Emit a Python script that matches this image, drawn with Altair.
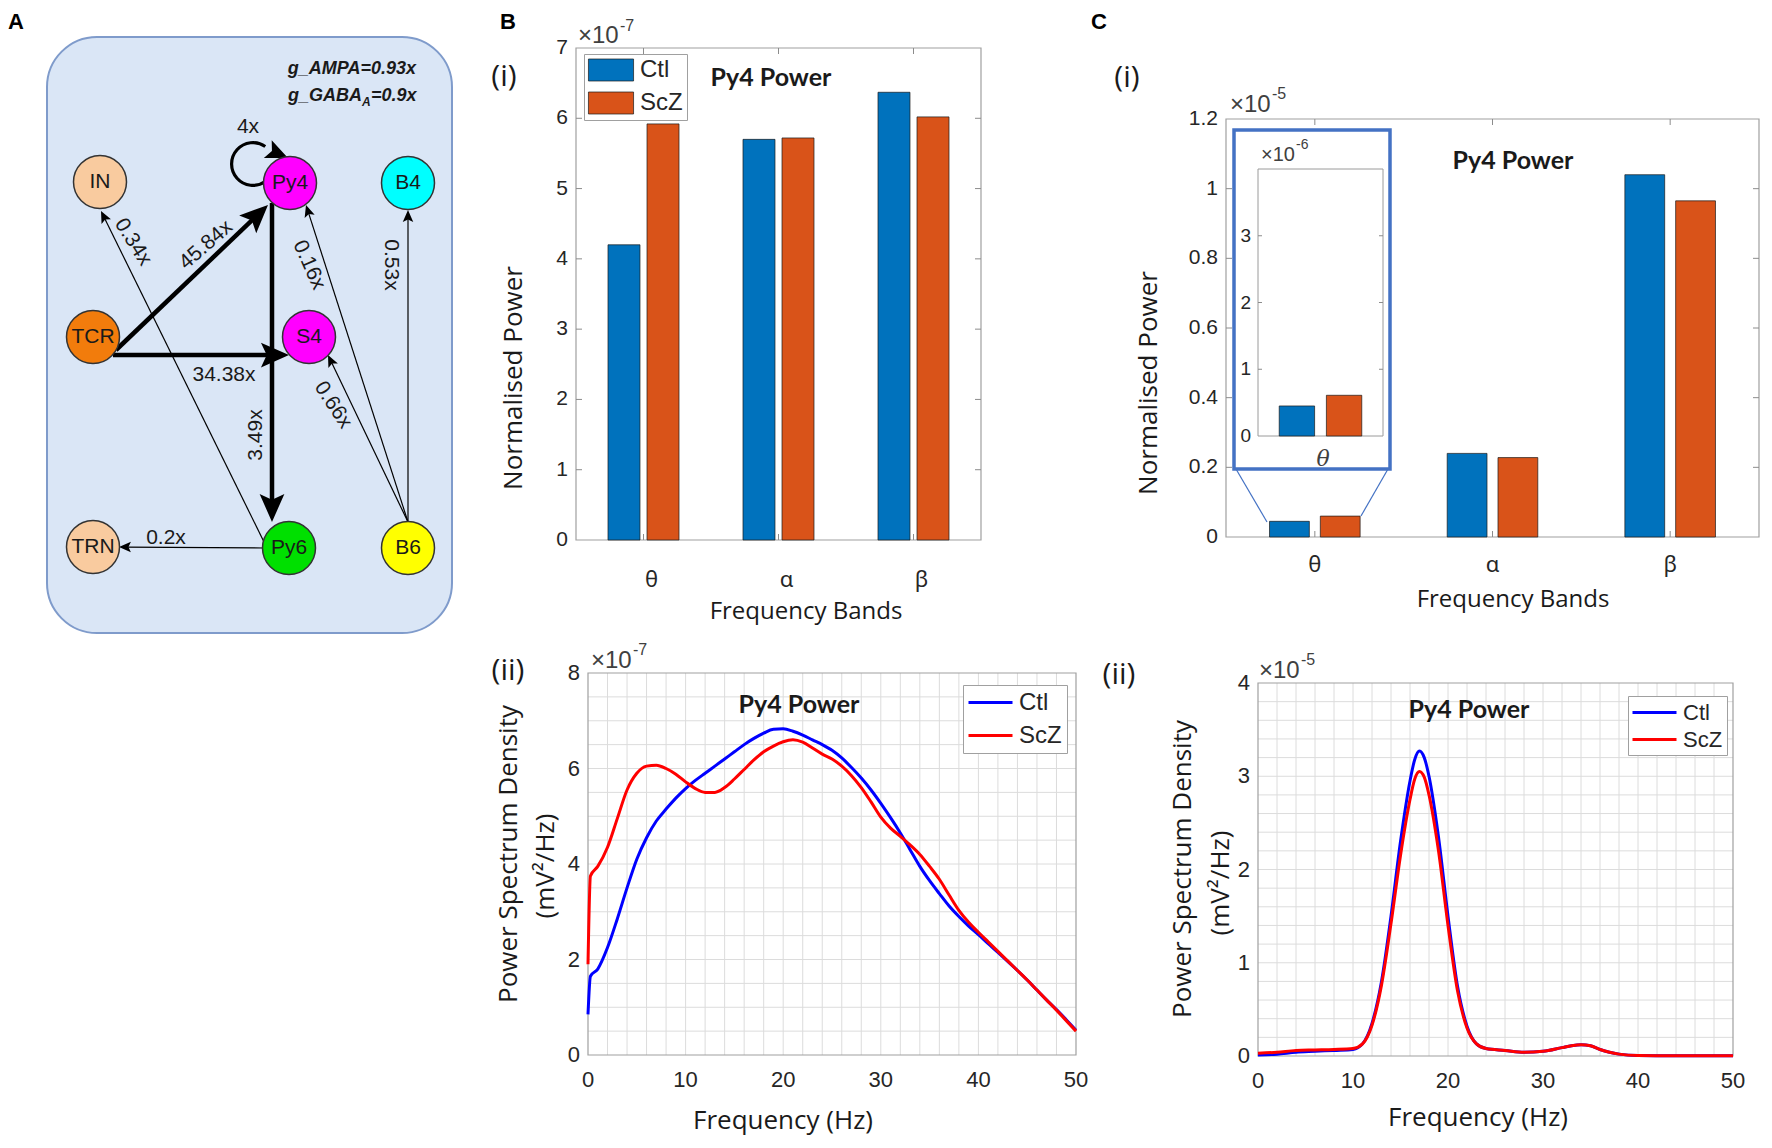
import math
import altair as alt
import pandas as pd

# ---------------- values ----------------
bands = ["θ", "α", "β"]
groups = ["Ctl", "ScZ"]

b_bar_ctl = [4.2, 5.7, 6.37]        # Py4 power, x10^-7
b_bar_scz = [5.92, 5.72, 6.02]
c_bar_ctl = [0.045, 0.24, 1.04]     # Py4 power, x10^-5
c_bar_scz = [0.06, 0.228, 0.965]
c_inset_ctl = [0.45]                # theta band zoom, x10^-6
c_inset_scz = [0.61]

b_freq = [0, 0.25, 1, 2, 3, 4, 5, 6, 7, 8, 9, 10, 11, 12, 13, 14, 15, 16, 17, 18, 19, 20,
          21, 22, 23, 24, 25, 26, 27, 28, 29, 30, 31, 32, 33, 34, 35, 36, 37, 38, 39, 40,
          41, 42, 43, 44, 45, 46, 47, 48, 49, 50]
b_psd_ctl = [0.85, 1.65, 1.8, 2.25, 2.85, 3.5, 4.1, 4.55, 4.9, 5.15, 5.38, 5.58, 5.75, 5.9,
             6.05, 6.2, 6.35, 6.5, 6.63, 6.74, 6.82, 6.83, 6.78, 6.7, 6.6, 6.5, 6.38, 6.22,
             6.02, 5.8, 5.55, 5.27, 4.97, 4.65, 4.3, 3.95, 3.65, 3.38, 3.12, 2.9, 2.7, 2.52,
             2.33, 2.15, 1.96, 1.77, 1.57, 1.36, 1.15, 0.95, 0.74, 0.52]
b_psd_scz = [1.9, 3.75, 3.95, 4.35, 4.95, 5.55, 5.9, 6.05, 6.07, 6.0, 5.88, 5.72, 5.58, 5.5,
             5.5, 5.6, 5.78, 5.98, 6.18, 6.35, 6.47, 6.56, 6.6, 6.55, 6.43, 6.3, 6.2, 6.05,
             5.85, 5.6, 5.3, 4.98, 4.75, 4.58, 4.4, 4.2, 3.95, 3.68, 3.35, 3.03, 2.78, 2.57,
             2.37, 2.17, 1.97, 1.77, 1.57, 1.36, 1.15, 0.94, 0.72, 0.5]
c_freq = [0, 2, 4, 6, 8, 10, 11, 12, 13, 14, 15, 16, 16.5, 17, 17.5, 18, 19, 20, 21, 22, 23,
          24, 26, 28, 30, 32, 33, 34, 35, 36, 37, 38, 40, 45, 50]
c_psd_ctl = [0.01, 0.02, 0.04, 0.05, 0.06, 0.07, 0.13, 0.35, 0.8, 1.5, 2.3, 2.95, 3.18, 3.27,
             3.2, 3.0, 2.35, 1.5, 0.75, 0.32, 0.13, 0.08, 0.06, 0.04, 0.05, 0.09, 0.11, 0.12,
             0.11, 0.07, 0.04, 0.02, 0.005, 0.003, 0.002]
c_psd_scz = [0.03, 0.04, 0.06, 0.065, 0.07, 0.08, 0.13, 0.33, 0.76, 1.42, 2.15, 2.75, 2.97,
             3.05, 2.99, 2.8, 2.2, 1.4, 0.7, 0.3, 0.13, 0.08, 0.06, 0.04, 0.05, 0.09, 0.11,
             0.12, 0.11, 0.07, 0.04, 0.02, 0.005, 0.003, 0.002]

# network diagram (panel A)
node_names = ["IN", "Py4", "B4", "TCR", "S4", "TRN", "Py6", "B6"]
node_fill = ["#f9cb9f", "#ff00ff", "#00ffff", "#f27c0c", "#ff00ff", "#f9cb9f", "#00e000", "#ffff00"]
node_x = [91, 281, 399, 84, 300, 84, 280, 399]
node_y = [174, 175, 175, 329, 329, 539, 540, 540]

edge_src = ["TCR", "TCR", "Py4", "Py6", "B6", "B6", "B6", "Py6"]
edge_dst = ["Py4", "S4", "Py6", "IN", "Py4", "S4", "B4", "TRN"]
edge_gain = ["45.84x", "34.38x", "3.49x", "0.34x", "0.16x", "0.66x", "0.53x", "0.2x"]
edge_heavy = [True, True, True, False, False, False, False, False]
self_gain = "4x"

# layout of the diagram (anchor offsets, label placement)
src_off = [(23, 13), (20, 18), (-18, 20), (-25, -6), (0, -26), (0, -26), (0, -26), (-25, 0)]
dst_off = [(-22, 22), (-20, 18), (-17, -26), (1, 29), (16, 22), (19, 18), (0, 27), (26, 0)]
lab_pos = [(197, 237), (215, 367), (247, 427), (124, 234), (300, 257), (324, 397), (382, 257), (157, 530)]
lab_ang = [319, 0, 270, 58, 66, 57, 90, 0]

ARROW = "M0,-1L0.75,0.7L0,0.35L-0.75,0.7Z"
TXT = "#262626"
TTL = "#1a1a1a"
BOX = "#a0a0a0"
GRID = "#dcdcdc"
TW, TH = 1752, 1128   # whole canvas


def label(t, x, y, size, font="Liberation Sans", weight="normal", color=TXT,
          align="center", baseline="middle", style=None, angle=None):
    kw = dict(font=font, fontSize=size, fontWeight=weight, color=color,
              align=align, baseline=baseline)
    if style:
        kw["fontStyle"] = style
    if angle:
        kw["angle"] = angle
    return alt.Chart(pd.DataFrame({"t": [t]})).mark_text(**kw).encode(
        x=alt.value(x), y=alt.value(y), text="t:N")


def frame(x0, y0, x1, y1, color=BOX, width=1.2, fill="white", fill_op=0.0):
    return alt.Chart(pd.DataFrame({"a": [0]})).mark_rect(
        fill=fill, fillOpacity=fill_op, stroke=color, strokeWidth=width).encode(
        x=alt.value(x0), x2=alt.value(x1), y=alt.value(y0), y2=alt.value(y1))


def seg(x0, y0, x1, y1, color, width):
    return alt.Chart(pd.DataFrame({"a": [0]})).mark_rule(color=color, strokeWidth=width).encode(
        x=alt.value(x0), y=alt.value(y0), x2=alt.value(x1), y2=alt.value(y1))


# ======================= Panel A =======================
sxA = alt.Scale(domain=[0, TW], range=[0, TW])
syA = alt.Scale(domain=[0, TH], range=[0, TH])


def XA(f):
    return alt.X(f, scale=sxA, axis=None)


def YA(f):
    return alt.Y(f, scale=syA, axis=None)


pos = {n: (x, y) for n, x, y in zip(node_names, node_x, node_y)}
lines, heads = [], []


def add_arrow(sx, sy, tx, ty, heavy, r=None):
    dx, dy = tx - sx, ty - sy
    L = math.hypot(dx, dy)
    ux, uy = dx / L, dy / L
    if r is None:
        r = 16.5 if heavy else 7.0
    cx, cy = tx - ux * r, ty - uy * r
    ang = math.degrees(math.atan2(ux, -uy)) % 360
    heads.append({"x": cx, "y": cy, "ang": ang, "sz": (2 * r) ** 2})
    return cx, cy


for i in range(len(edge_src)):
    s = pos[edge_src[i]]
    d = pos[edge_dst[i]]
    sx, sy = s[0] + src_off[i][0], s[1] + src_off[i][1]
    tx, ty = d[0] + dst_off[i][0], d[1] + dst_off[i][1]
    ex, ey = add_arrow(sx, sy, tx, ty, edge_heavy[i])
    lines.append({"x": sx, "y": sy, "x2": ex, "y2": ey, "w": 4.5 if edge_heavy[i] else 1.2})

loop_c = (pos["Py4"][0] - 37, pos["Py4"][1] - 19)
add_arrow(pos["Py4"][0] - 27, pos["Py4"][1] - 36, pos["Py4"][0] - 2, pos["Py4"][1] - 25, True, r=13)

box = alt.Chart(pd.DataFrame({"x": [38], "x2": [443], "y": [29], "y2": [625]})).mark_rect(
    cornerRadius=50, fill="#dae6f6", stroke="#7f9bcb", strokeWidth=2).encode(
    x=XA("x:Q"), x2="x2:Q", y=YA("y:Q"), y2="y2:Q")
edges = alt.Chart(pd.DataFrame(lines)).mark_rule(color="black").encode(
    x=XA("x:Q"), y=YA("y:Q"), x2="x2:Q", y2="y2:Q",
    strokeWidth=alt.StrokeWidth("w:Q", scale=None))
arrowheads = alt.Chart(pd.DataFrame(heads)).mark_point(
    shape=ARROW, filled=True, color="black", opacity=1).encode(
    x=XA("x:Q"), y=YA("y:Q"), angle=alt.Angle("ang:Q", scale=None),
    size=alt.Size("sz:Q", scale=None))
loop = alt.Chart(pd.DataFrame({"x": [loop_c[0]], "y": [loop_c[1]]})).mark_arc(
    theta=math.radians(145), theta2=math.radians(395), radius=23, radius2=19.8,
    color="black").encode(x=XA("x:Q"), y=YA("y:Q"))
df_nodes = pd.DataFrame({"name": node_names, "x": node_x, "y": node_y, "fill": node_fill})
nodes = alt.Chart(df_nodes).mark_point(shape="circle", filled=True, size=2809,
                                       stroke="#333333", strokeWidth=1.5, opacity=1).encode(
    x=XA("x:Q"), y=YA("y:Q"), fill=alt.Fill("fill:N", scale=None))
node_txt = alt.Chart(df_nodes).mark_text(font="Liberation Sans", fontSize=21,
                                         color="#1a1a1a").encode(
    x=XA("x:Q"), y=YA("y:Q"), text="name:N")
df_elab = pd.DataFrame({"t": edge_gain + [self_gain],
                        "x": [p[0] for p in lab_pos] + [239],
                        "y": [p[1] for p in lab_pos] + [119],
                        "ang": lab_ang + [0]})
edge_txt = alt.Chart(df_elab).mark_text(font="Liberation Sans", fontSize=21,
                                        color="#1a1a1a").encode(
    x=XA("x:Q"), y=YA("y:Q"), text="t:N", angle=alt.Angle("ang:Q", scale=None))

gtxt = dict(font="Liberation Sans", weight="bold", style="italic", color="#1a1a1a")
panel_a = alt.layer(
    box, edges, loop, arrowheads, nodes, node_txt, edge_txt,
    label("A", 7, 14, 22, weight="bold", color="black"),
    label("g_AMPA=0.93x", 407, 61, 18, align="right", **gtxt),
    label("g_GABA", 353, 88, 18, align="right", **gtxt),
    label("A", 353, 94, 12, align="left", **gtxt),
    label("=0.9x", 362, 88, 18, align="left", **gtxt),
)


# ======================= bar panels =======================
def bar_panel(vals_ctl, vals_scz, x0, y0, W, H, ydom, yvals, ylabs, pin, pin_off,
              lab_pad, lab_dx, legend):
    x1, y1 = x0 + W, y0 + H
    df = pd.DataFrame({"band": bands * 2, "group": [groups[0]] * 3 + [groups[1]] * 3,
                       "val": vals_ctl + vals_scz})
    xenc = alt.X("band:N", sort=bands,
                 scale=alt.Scale(domain=bands, range=[x0, x1], paddingInner=pin,
                                 paddingOuter=pin / 2), axis=None)
    yenc = alt.Y("val:Q", scale=alt.Scale(domain=ydom, range=[y1, y0], nice=False), axis=None)
    color = alt.Color("group:N", sort=groups,
                      scale=alt.Scale(domain=groups, range=["#0072bd", "#d95319"]),
                      legend=legend)
    bars = alt.Chart(df).mark_bar(stroke="#1a1a1a", strokeWidth=0.7).encode(
        x=xenc, y=yenc, color=color,
        xOffset=alt.XOffset("group:N", sort=groups,
                            scale=alt.Scale(domain=groups, paddingInner=pin_off,
                                            paddingOuter=0)))
    dft = pd.DataFrame({"val": yvals, "lab": ylabs})
    ylab = alt.Chart(dft).mark_text(font="Liberation Sans", fontSize=21, color=TXT,
                                    align="right", baseline="middle").encode(
        y=yenc, x=alt.value(x0 - 8), text="lab:N")
    inner = pd.DataFrame({"val": yvals[1:-1]})
    tl = alt.Chart(inner).mark_rule(color="#8c8c8c", strokeWidth=1).encode(
        y=yenc, x=alt.value(x0), x2=alt.value(x0 + 6))
    tr = alt.Chart(inner).mark_rule(color="#8c8c8c", strokeWidth=1).encode(
        y=yenc, x=alt.value(x1 - 6), x2=alt.value(x1))
    dfx = pd.DataFrame({"band": bands})
    tb = alt.Chart(dfx).mark_rule(color="#8c8c8c", strokeWidth=1).encode(
        x=xenc, y=alt.value(y1 - 6), y2=alt.value(y1))
    tt = alt.Chart(dfx).mark_rule(color="#8c8c8c", strokeWidth=1).encode(
        x=xenc, y=alt.value(y0), y2=alt.value(y0 + 6))
    xlab = alt.Chart(dfx).mark_text(font="Noto Sans", fontSize=22, color=TXT,
                                    baseline="middle", dx=lab_dx).encode(
        x=xenc, y=alt.value(y1 + lab_pad), text="band:N")
    return [frame(x0, y0, x1, y1), bars, tl, tr, tb, tt, ylab, xlab]


# ---- B(i)
BX, BY, BW, BH = 567, 40, 405, 492
leg_bi = alt.Legend(title=None, orient="none", legendX=BX + 8, legendY=BY + 6,
                    direction="vertical", fillColor="white", strokeColor=BOX, padding=4,
                    rowPadding=7, labelFont="Liberation Sans", labelFontSize=24,
                    labelColor=TXT, labelOffset=17, symbolOffset=11,
                    symbolType="M-2.05,-1H2.05V1H-2.05Z", symbolSize=484,
                    symbolStrokeColor="#1a1a1a", symbolStrokeWidth=0.7)
b_i = alt.layer(
    *bar_panel(b_bar_ctl, b_bar_scz, BX, BY, BW, BH, [0, 7], list(range(8)),
               [str(v) for v in range(8)], 0.474, 0.18, 40, 8, leg_bi),
    label("B", BX - 68, BY - 26, 22, weight="bold", color="black"),
    label("(i)", BX - 72, BY + 29, 30, font="Open Sans", color=TTL),
    label("Py4 Power", BX + 195, BY + 30, 25, font="Lato", weight="bold", color=TTL),
    label("×10", BX + 2, BY - 12, 24, align="left", color="#404040"),
    label("-7", BX + 44, BY - 22, 16, align="left", color="#404040"),
    label("Normalised Power", BX - 62, BY + 330, 26, font="Open Sans", color=TTL, angle=270),
    label("Frequency Bands", BX + 230, BY + BH + 72, 24, font="Open Sans", color=TTL),
)

# ---- C(i)
CX, CY, CW, CH = 1217, 111, 533, 418
c_vals = [0, 0.2, 0.4, 0.6, 0.8, 1.0, 1.2]
c_labs = ["0", "0.2", "0.4", "0.6", "0.8", "1", "1.2"]
c_i = alt.layer(
    *bar_panel(c_bar_ctl, c_bar_scz, CX, CY, CW, CH, [0, 1.2], c_vals, c_labs,
               0.49, 0.216, 28, 0, None),
    label("C", CX - 127, CY - 97, 22, weight="bold", color="black"),
    label("(i)", CX - 99, CY - 41, 30, font="Open Sans", color=TTL),
    label("Py4 Power", CX + 287, CY + 42, 25, font="Lato", weight="bold", color=TTL),
    label("×10", CX + 4, CY - 14, 24, align="left", color="#404040"),
    label("-5", CX + 46, CY - 25, 16, align="left", color="#404040"),
    label("Normalised Power", CX - 77, CY + 264, 26, font="Open Sans", color=TTL, angle=270),
    label("Frequency Bands", CX + 287, CY + CH + 63, 24, font="Open Sans", color=TTL),
)

# ---- C(i) inset (theta band, x10^-6)
IX0, IX1, IY0, IY1 = CX + 32, CX + 157, CY + 50, CY + 317
df_in = pd.DataFrame({"group": groups, "ival": c_inset_ctl + c_inset_scz})
ix = alt.X("group:N", sort=groups,
           scale=alt.Scale(domain=groups, range=[IX0, IX1], paddingInner=0.25,
                           paddingOuter=0.45), axis=None)
iy = alt.Y("ival:Q", scale=alt.Scale(domain=[0, 4], range=[IY1, IY0], nice=False), axis=None)
df_iticks = pd.DataFrame({"ival": [0, 1, 2, 3], "lab": ["0", "1", "2", "3"]})
c_inset = alt.layer(
    seg(CX + 10, CY + 350, CX + 41, CY + 403, "#4472c4", 1.2),
    seg(CX + 162, CY + 350, CX + 135, CY + 397, "#4472c4", 1.2),
    frame(CX + 8, CY + 11, CX + 164, CY + 350, color="#4472c4", width=3.5, fill_op=1.0),
    frame(IX0, IY0, IX1, IY1, color="#9a9a9a", width=1),
    alt.Chart(df_in).mark_bar(stroke="#1a1a1a", strokeWidth=0.7).encode(
        x=ix, y=iy,
        color=alt.Color("group:N", sort=groups,
                        scale=alt.Scale(domain=groups, range=["#0072bd", "#d95319"]),
                        legend=None)),
    alt.Chart(df_iticks).mark_text(font="Liberation Sans", fontSize=19, color=TXT,
                                   align="right", baseline="middle").encode(
        y=iy, x=alt.value(CX + 25), text="lab:N"),
    alt.Chart(df_iticks.iloc[1:]).mark_rule(color="#8c8c8c").encode(
        y=iy, x=alt.value(IX0), x2=alt.value(IX0 + 4)),
    alt.Chart(df_iticks.iloc[1:]).mark_rule(color="#8c8c8c").encode(
        y=iy, x=alt.value(IX1 - 4), x2=alt.value(IX1)),
    label("θ", CX + 97, CY + 340, 22, font="DejaVu Serif", style="italic", color="#404040"),
    label("×10", CX + 35, CY + 36, 20, align="left", color="#404040"),
    label("-6", CX + 70, CY + 26, 14, align="left", color="#404040"),
)


# ======================= spectra panels =======================
def psd_panel(freq, ctl, scz, x0, y0, W, H, ymax, ystep, ylab_step, leg_xy, leg_row,
              leg_font, leg_pad):
    x1, y1 = x0 + W, y0 + H
    df = pd.DataFrame({"freq": freq * 2, "val": ctl + scz,
                       "group": [groups[0]] * len(freq) + [groups[1]] * len(freq)})
    xenc = alt.X("freq:Q", scale=alt.Scale(domain=[0, 50], range=[x0, x1], nice=False),
                 axis=None)
    yenc = alt.Y("val:Q", scale=alt.Scale(domain=[0, ymax], range=[y1, y0], nice=False),
                 axis=None)
    nstep = int(round(ymax / ystep))
    gy = pd.DataFrame({"val": [round(i * ystep, 3) for i in range(1, nstep)]})
    gx = pd.DataFrame({"freq": list(range(2, 50, 2))})
    grid_x = alt.Chart(gx).mark_rule(color=GRID, strokeWidth=1).encode(
        x=xenc, y=alt.value(y0), y2=alt.value(y1))
    grid_y = alt.Chart(gy).mark_rule(color=GRID, strokeWidth=1).encode(
        y=yenc, x=alt.value(x0), x2=alt.value(x1))
    ly = [i * ylab_step for i in range(int(round(ymax / ylab_step)) + 1)]
    ylab = alt.Chart(pd.DataFrame({"val": ly, "lab": [f"{v:g}" for v in ly]})).mark_text(
        font="Liberation Sans", fontSize=22, color=TXT, align="right",
        baseline="middle").encode(y=yenc, x=alt.value(x0 - 8), text="lab:N")
    lx = list(range(0, 51, 10))
    xlab = alt.Chart(pd.DataFrame({"freq": lx, "lab": [str(v) for v in lx]})).mark_text(
        font="Liberation Sans", fontSize=22, color=TXT, baseline="middle").encode(
        x=xenc, y=alt.value(y1 + 25), text="lab:N")
    leg = alt.Legend(title=None, orient="none", legendX=leg_xy[0], legendY=leg_xy[1],
                     direction="vertical", fillColor="white", strokeColor=BOX,
                     padding=leg_pad, rowPadding=leg_row, labelFont="Liberation Sans",
                     labelFontSize=leg_font, labelColor=TXT, labelOffset=16,
                     symbolOffset=10, symbolType="M-2,0H2", symbolSize=484,
                     symbolStrokeWidth=3)
    curves = alt.Chart(df).mark_line(strokeWidth=3, interpolate="monotone").encode(
        x=xenc, y=yenc,
        color=alt.Color("group:N", sort=groups,
                        scale=alt.Scale(domain=groups, range=["#0000ff", "#ff0000"]),
                        legend=leg))
    return [grid_x, grid_y, frame(x0, y0, x1, y1), ylab, xlab, curves]


# ---- B(ii)
DX, DY, DW, DH = 579, 665, 488, 382
b_ii = alt.layer(
    *psd_panel(b_freq, b_psd_ctl, b_psd_scz, DX, DY, DW, DH, 8, 0.5, 2,
               (DX + 375, DY + 12), 8, 24, 5),
    label("(ii)", DX - 80, DY - 2, 30, font="Open Sans", color=TTL),
    label("Py4 Power", DX + 211, DY + 32, 25, font="Lato", weight="bold", color=TTL),
    label("×10", DX + 3, DY - 12, 24, align="left", color="#404040"),
    label("-7", DX + 45, DY - 23, 16, align="left", color="#404040"),
    label("Power Spectrum Density", DX - 79, DY + 181, 26, font="Open Sans", color=TTL, angle=270),
    label("(mV²/Hz)", DX - 42, DY + 193, 26, font="Open Sans", color=TTL, angle=270),
    label("Frequency (Hz)", DX + 195, DY + DH + 66, 26, font="Open Sans", color=TTL),
)

# ---- C(ii)
EX, EY, EW, EH = 1249, 675, 475, 373
c_ii = alt.layer(
    *psd_panel(c_freq, c_psd_ctl, c_psd_scz, EX, EY, EW, EH, 4, 0.2, 1,
               (EX + 370, EY + 13), 3, 22, 4),
    label("(ii)", EX - 139, EY - 8, 30, font="Open Sans", color=TTL),
    label("Py4 Power", EX + 211, EY + 27, 25, font="Lato", weight="bold", color=TTL),
    label("×10", EX + 1, EY - 12, 24, align="left", color="#404040"),
    label("-5", EX + 43, EY - 23, 16, align="left", color="#404040"),
    label("Power Spectrum Density", EX - 75, EY + 186, 26, font="Open Sans", color=TTL, angle=270),
    label("(mV²/Hz)", EX - 37, EY + 200, 26, font="Open Sans", color=TTL, angle=270),
    label("Frequency (Hz)", EX + 220, EY + EH + 62, 26, font="Open Sans", color=TTL),
)

chart = alt.layer(panel_a, b_i, c_i, c_inset, b_ii, c_ii).resolve_scale(
    x="independent", y="independent", color="independent", xOffset="independent"
).resolve_legend(color="independent").properties(
    width=TW, height=TH, padding=0, background="white"
).configure_view(stroke=None)

chart.save("out.html", embed_options={"renderer": "svg", "actions": False})
